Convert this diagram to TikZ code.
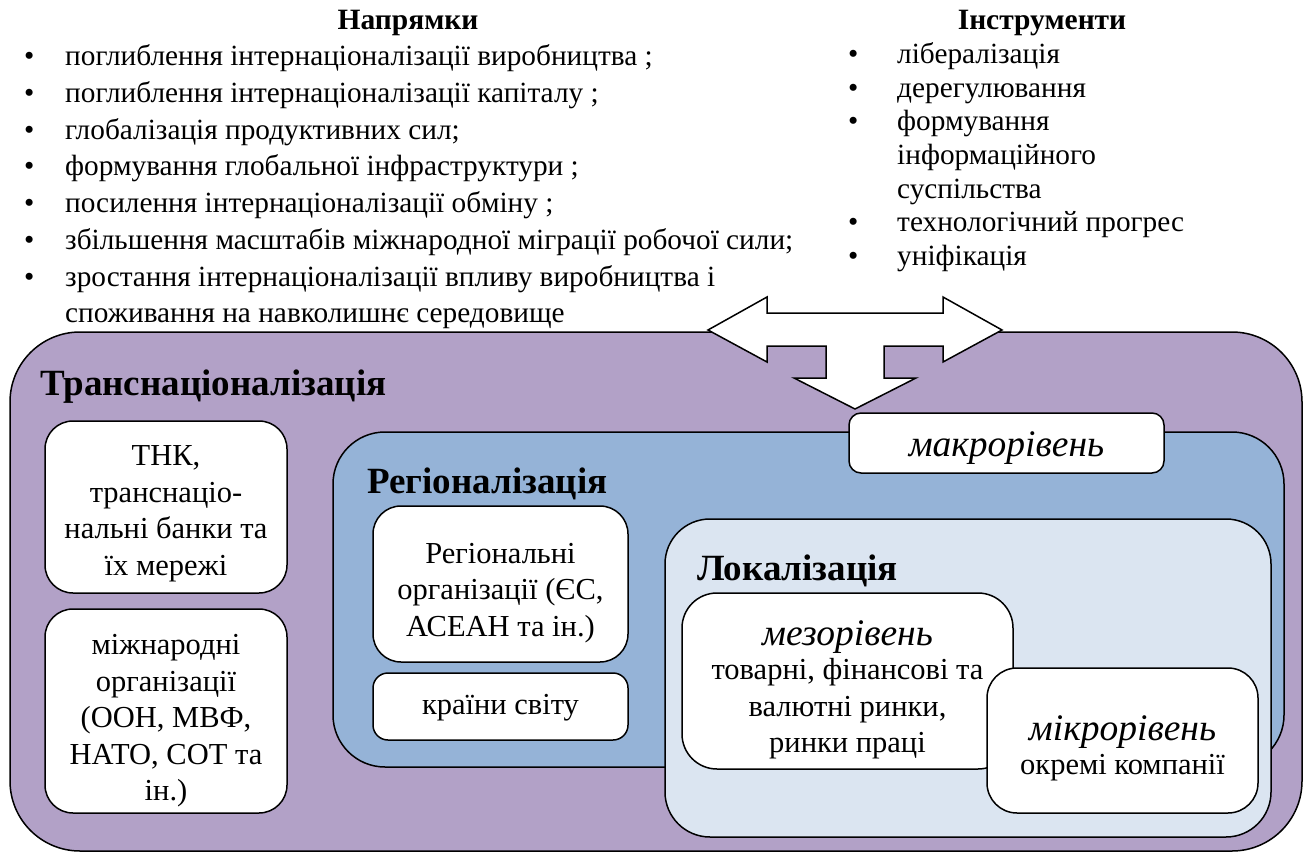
\documentclass[tikz,border=0pt]{standalone}
\usepackage{fontspec}
\setmainfont{Liberation Serif}
\definecolor{transc}{HTML}{B2A1C7}
\definecolor{regc}{HTML}{95B3D7}
\definecolor{locc}{HTML}{DBE5F1}
\newcommand{\bxf}{\fontsize{30.5}{36.5}\selectfont}
\newcommand{\ttlf}{\fontsize{37}{44}\selectfont\bfseries}
\newcommand{\itf}{\fontsize{37.5}{38}\selectfont\itshape}
\newcommand{\lstf}{\fontsize{29.3}{36.7}\selectfont}
\newcommand{\rlstf}{\fontsize{29.3}{33.6}\selectfont}
\begin{document}
\begin{tikzpicture}[x=1pt,y=-1pt,
  box/.style={draw=black, line width=1.5pt, inner sep=0pt, fill=white},
  txt/.style={inner sep=0pt, align=center, font=\bxf},
  ttl/.style={anchor=base west, inner sep=0pt, font=\ttlf},
  lst/.style={anchor=north west, inner sep=0pt, align=left}]
\useasboundingbox (0,0) rectangle (1304,853);
% containers
\node[box, fill=transc, rounded corners=70pt, minimum width=1292pt, minimum height=519pt] (trans) at (656,591.5) {};
\node[box, fill=regc, rounded corners=52pt, minimum width=951pt, minimum height=335pt] (reg) at (808.5,599.5) {};
\node[box, fill=locc, rounded corners=45pt, minimum width=606pt, minimum height=318pt] (loc) at (968,678) {};
% titles
\node[ttl] (ttrans) at (40,395) {Транснаціоналізація};
\node[ttl] (treg) at (367,493) {Регіоналізація};
\node[ttl] (tloc) at (697,580) {Локалізація};
% inner boxes
\node[box, rounded corners=28pt, minimum width=242pt, minimum height=172pt] (tnk) at (166,507) {};
\node[txt] (tnkt) at ([yshift=-7pt]tnk.center) {ТНК,\\транснаціо-\\нальні банки та\\їх мережі};
\node[box, rounded corners=28pt, minimum width=242pt, minimum height=204pt] (intl) at (166,711) {};
\node[txt] (intlt) at ([yshift=-10pt]intl.center) {міжнародні\\організації\\(ООН, МВФ,\\НАТО, СОТ та\\ін.)};
\node[box, rounded corners=28pt, minimum width=255pt, minimum height=156pt] (regorg) at (500.5,584) {};
\node[txt] (regorgt) at ([yshift=-9pt]regorg.center) {Регіональні\\організації (ЄС,\\АСЕАН та ін.)};
\node[box, rounded corners=15pt, minimum width=255pt, minimum height=67pt] (ctry) at (500.5,706.5) {};
\node[txt] (ctryt) at ([yshift=-1pt]ctry.center) {країни світу};
\node[box, rounded corners=12pt, minimum width=315pt, minimum height=60pt] (macro) at (1006.5,443) {};
\node[txt, font=\itf] (macrot) at ([yshift=-5pt]macro.center) {макрорівень};
\node[box, rounded corners=35pt, minimum width=331pt, minimum height=176pt] (meso) at (847.5,681) {};
\node[txt] (mesot) at ([yshift=-9pt]meso.center) {{\itf мезорівень}\\[-2pt]товарні, фінансові та\\валютні ринки,\\ринки праці};
\node[box, rounded corners=30pt, minimum width=271pt, minimum height=145pt] (micro) at (1122.5,740.5) {};
\node[txt] (microt) at ([yshift=-8pt]micro.center) {{\itf мікрорівень}\\[-2pt]окремі компанії};
% double arrow with downward branch
\draw[line width=1.5pt, fill=white, line join=miter]
  (708,330) -- (767,297) -- (767,313) -- (943,313) -- (943,297) -- (1002,330)
  -- (943,362) -- (943,346) -- (884,346) -- (884,378) -- (916,378) -- (855,409)
  -- (794,378) -- (826,378) -- (826,346) -- (767,346) -- (767,362) -- cycle;
% headings
\node[anchor=base, inner sep=0pt, font=\fontsize{29.5}{34}\selectfont\bfseries] (hdir) at (408,30) {Напрямки};
\node[anchor=base, inner sep=0pt, font=\fontsize{29.5}{34}\selectfont\bfseries] (hins) at (1042,30) {Інструменти};
% lists
\node[lst, font=\lstf] (ldir) at (24,40) {\begin{tabular}{@{}p{41pt}@{}l@{}}
\textbullet & поглиблення інтернаціоналізації виробництва ;\\
\textbullet & поглиблення інтернаціоналізації капіталу ;\\
\textbullet & глобалізація продуктивних сил;\\
\textbullet & формування глобальної інфраструктури ;\\
\textbullet & посилення інтернаціоналізації обміну ;\\
\textbullet & збільшення масштабів міжнародної міграції робочої сили;\\
\textbullet & зростання інтернаціоналізації впливу виробництва і\\
 & споживання на навколишнє середовище
\end{tabular}};
\node[lst, font=\rlstf] (lins) at (848,40) {\begin{tabular}{@{}p{49pt}@{}l@{}}
\textbullet & лібералізація\\
\textbullet & дерегулювання\\
\textbullet & формування\\
 & інформаційного\\
 & суспільства\\
\textbullet & технологічний прогрес\\
\textbullet & уніфікація
\end{tabular}};
\end{tikzpicture}
\end{document}
